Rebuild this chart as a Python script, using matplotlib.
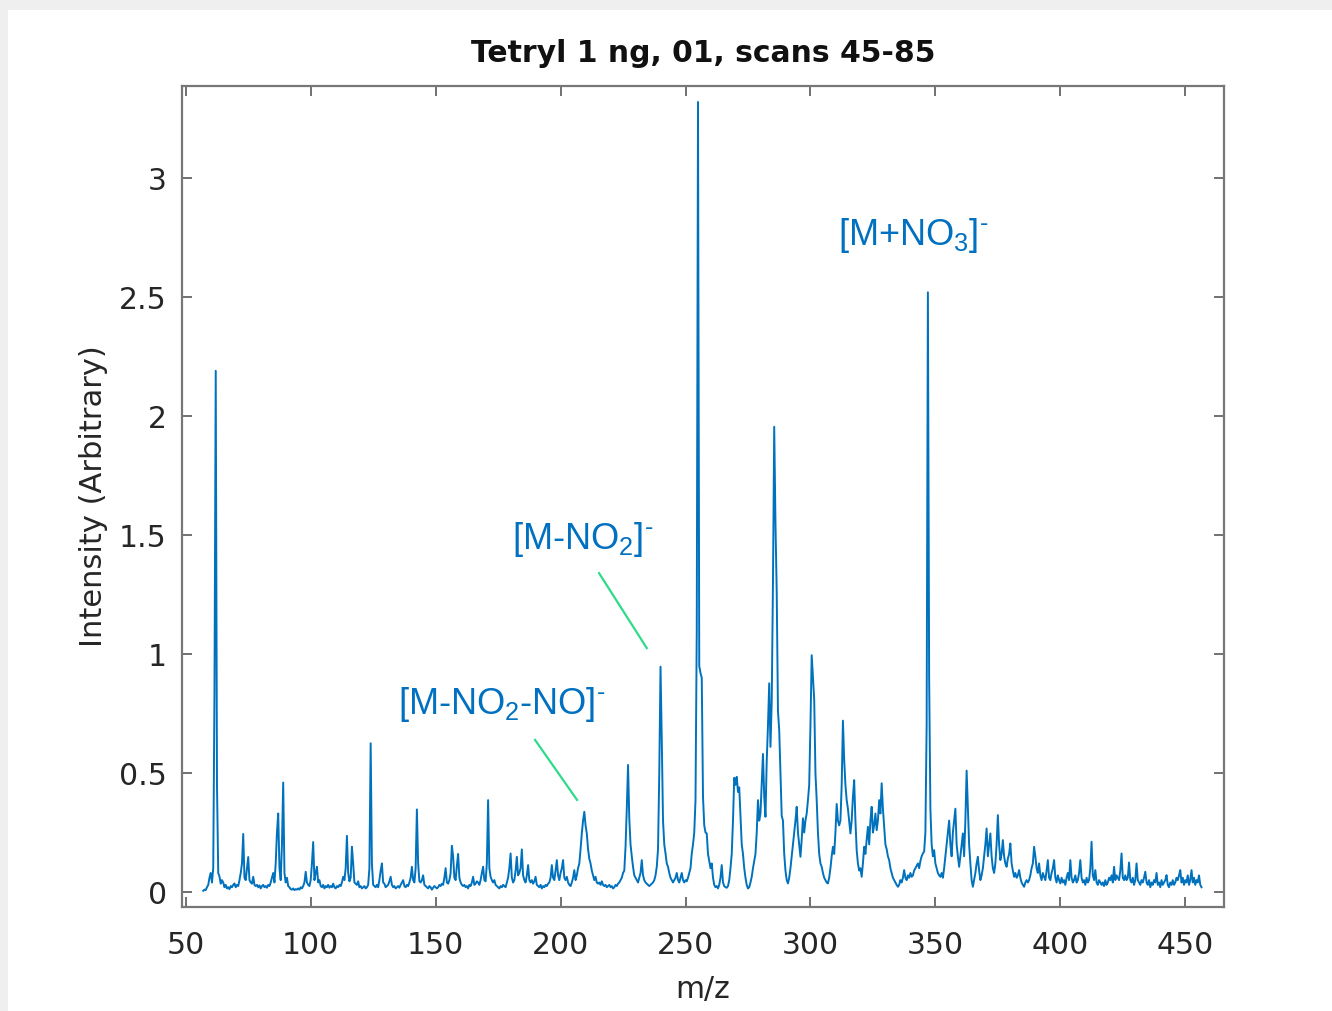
import numpy as np
import matplotlib
matplotlib.use("Agg")
import matplotlib.pyplot as plt
from matplotlib.patches import Rectangle

plt.rcParams['font.family'] = ['DejaVu Sans']
plt.rcParams['mathtext.fontset'] = 'custom'
plt.rcParams['mathtext.rm'] = 'Liberation Sans'
plt.rcParams['mathtext.it'] = 'Liberation Sans:italic'
plt.rcParams['mathtext.bf'] = 'Liberation Sans:bold'

# ---------------- data ----------------
title = "Tetryl 1 ng, 01, scans 45-85"
x_label = "m/z"
y_label = "Intensity (Arbitrary)"
x_ticks = [50, 100, 150, 200, 250, 300, 350, 400, 450]
y_ticks = [0, 0.5, 1, 1.5, 2, 2.5, 3]
y_tick_labels = ["0", "0.5", "1", "1.5", "2", "2.5", "3"]

# spectrum sampled every 0.5 m/z from 57 to 456.5 (one row = 10 m/z)
intensity = [
    # 57 - 66.5
    0.005, 0.01, 0.008, 0.02, 0.03, 0.06, 0.08, 0.04, 0.1, 0.85, 2.19, 0.45, 0.08, 0.065, 0.035, 0.05, 0.04, 0.02, 0.03, 0.015,
    # 67 - 76.5
    0.02, 0.012, 0.025, 0.02, 0.03, 0.036, 0.02, 0.03, 0.025, 0.05, 0.08, 0.12, 0.244, 0.06, 0.05, 0.1, 0.147, 0.05, 0.04, 0.035,
    # 77 - 86.5
    0.064, 0.03, 0.025, 0.03, 0.02, 0.028, 0.015, 0.025, 0.03, 0.02, 0.025, 0.018, 0.03, 0.025, 0.04, 0.06, 0.08, 0.04, 0.12, 0.25,
    # 87 - 96.5
    0.33, 0.1, 0.05, 0.2, 0.46, 0.08, 0.04, 0.06, 0.025, 0.02, 0.012, 0.01, 0.015, 0.008, 0.012, 0.01, 0.015, 0.01, 0.02, 0.015,
    # 97 - 106.5
    0.025, 0.04, 0.085, 0.04, 0.03, 0.025, 0.05, 0.12, 0.21, 0.05, 0.08, 0.106, 0.04, 0.05, 0.025, 0.02, 0.03, 0.015, 0.025, 0.02,
    # 107 - 116.5
    0.03, 0.018, 0.025, 0.02, 0.035, 0.02, 0.015, 0.025, 0.02, 0.03, 0.025, 0.04, 0.064, 0.05, 0.1, 0.236, 0.08, 0.045, 0.06, 0.19,
    # 117 - 126.5
    0.12, 0.04, 0.035, 0.03, 0.045, 0.02, 0.025, 0.015, 0.02, 0.025, 0.015, 0.02, 0.03, 0.1, 0.625, 0.12, 0.03, 0.025, 0.02, 0.03,
    # 127 - 136.5
    0.02, 0.05, 0.09, 0.12, 0.04, 0.035, 0.02, 0.025, 0.03, 0.045, 0.064, 0.03, 0.02, 0.025, 0.015, 0.02, 0.025, 0.018, 0.03, 0.04,
    # 137 - 146.5
    0.05, 0.025, 0.02, 0.03, 0.025, 0.04, 0.06, 0.106, 0.05, 0.04, 0.1, 0.347, 0.12, 0.045, 0.04, 0.05, 0.07, 0.03, 0.025, 0.02,
    # 147 - 156.5
    0.015, 0.025, 0.02, 0.01, 0.018, 0.025, 0.02, 0.015, 0.02, 0.03, 0.025, 0.035, 0.03, 0.06, 0.1, 0.04, 0.035, 0.05, 0.08, 0.194,
    # 157 - 166.5
    0.15, 0.06, 0.05, 0.11, 0.16, 0.06, 0.04, 0.03, 0.025, 0.03, 0.02, 0.025, 0.015, 0.03, 0.025, 0.04, 0.064, 0.03, 0.035, 0.045,
    # 167 - 176.5
    0.04, 0.03, 0.05, 0.08, 0.106, 0.05, 0.045, 0.12, 0.386, 0.1, 0.064, 0.05, 0.04, 0.05, 0.03, 0.025, 0.02, 0.015, 0.025, 0.02,
    # 177 - 186.5
    0.03, 0.025, 0.02, 0.04, 0.06, 0.1, 0.162, 0.06, 0.04, 0.05, 0.09, 0.148, 0.07, 0.08, 0.1, 0.179, 0.07, 0.05, 0.04, 0.07,
    # 187 - 196.5
    0.113, 0.05, 0.04, 0.05, 0.035, 0.045, 0.064, 0.03, 0.025, 0.02, 0.03, 0.015, 0.025, 0.02, 0.03, 0.025, 0.035, 0.04, 0.06, 0.113,
    # 197 - 206.5
    0.06, 0.05, 0.09, 0.134, 0.07, 0.05, 0.08, 0.1, 0.134, 0.06, 0.05, 0.064, 0.04, 0.03, 0.025, 0.04, 0.06, 0.092, 0.05, 0.07,
    # 207 - 216.5
    0.1, 0.12, 0.18, 0.246, 0.3, 0.337, 0.28, 0.246, 0.18, 0.14, 0.12, 0.09, 0.07, 0.05, 0.064, 0.04, 0.035, 0.04, 0.03, 0.045,
    # 217 - 226.5
    0.03, 0.025, 0.03, 0.02, 0.025, 0.03, 0.02, 0.025, 0.015, 0.02, 0.03, 0.025, 0.035, 0.04, 0.05, 0.06, 0.08, 0.09, 0.19, 0.35,
    # 227 - 236.5
    0.534, 0.31, 0.2, 0.15, 0.106, 0.07, 0.06, 0.05, 0.04, 0.06, 0.08, 0.134, 0.07, 0.05, 0.04, 0.035, 0.03, 0.025, 0.03, 0.035,
    # 237 - 246.5
    0.04, 0.05, 0.07, 0.106, 0.18, 0.5, 0.947, 0.64, 0.3, 0.2, 0.162, 0.12, 0.106, 0.08, 0.06, 0.05, 0.04, 0.05, 0.06, 0.08,
    # 247 - 256.5
    0.05, 0.04, 0.06, 0.08, 0.05, 0.04, 0.05, 0.045, 0.06, 0.08, 0.1, 0.162, 0.2, 0.25, 0.386, 1.1, 3.32, 0.95, 0.92, 0.9,
    # 257 - 266.5
    0.4, 0.28, 0.25, 0.246, 0.16, 0.13, 0.1, 0.12, 0.06, 0.03, 0.02, 0.025, 0.015, 0.03, 0.06, 0.113, 0.04, 0.025, 0.02, 0.018,
    # 267 - 276.5
    0.025, 0.05, 0.1, 0.16, 0.3, 0.48, 0.45, 0.484, 0.42, 0.44, 0.316, 0.2, 0.16, 0.1, 0.06, 0.03, 0.015, 0.02, 0.04, 0.064,
    # 277 - 286.5
    0.1, 0.13, 0.16, 0.25, 0.386, 0.3, 0.33, 0.45, 0.58, 0.4, 0.316, 0.55, 0.7, 0.877, 0.61, 0.8, 1.3, 1.955, 1.55, 1.26,
    # 287 - 296.5
    0.76, 0.68, 0.5, 0.32, 0.3, 0.16, 0.09, 0.05, 0.036, 0.06, 0.1, 0.15, 0.2, 0.246, 0.3, 0.358, 0.25, 0.2, 0.148, 0.22,
    # 297 - 306.5
    0.31, 0.25, 0.3, 0.33, 0.386, 0.45, 0.7, 0.995, 0.9, 0.81, 0.5, 0.386, 0.25, 0.16, 0.12, 0.106, 0.08, 0.06, 0.05, 0.04,
    # 307 - 316.5
    0.036, 0.06, 0.1, 0.15, 0.19, 0.16, 0.25, 0.37, 0.3, 0.28, 0.3, 0.45, 0.72, 0.555, 0.45, 0.386, 0.35, 0.3, 0.246, 0.3,
    # 317 - 326.5
    0.4, 0.47, 0.3, 0.176, 0.12, 0.09, 0.1, 0.064, 0.12, 0.19, 0.16, 0.22, 0.274, 0.2, 0.3, 0.358, 0.25, 0.28, 0.33, 0.26,
    # 327 - 336.5
    0.3, 0.386, 0.33, 0.457, 0.35, 0.274, 0.2, 0.18, 0.15, 0.134, 0.1, 0.08, 0.06, 0.05, 0.04, 0.03, 0.022, 0.03, 0.05, 0.04,
    # 337 - 346.5
    0.06, 0.092, 0.06, 0.05, 0.07, 0.06, 0.08, 0.064, 0.07, 0.09, 0.1, 0.11, 0.12, 0.1, 0.13, 0.15, 0.162, 0.17, 0.25, 0.7,
    # 347 - 356.5
    2.52, 0.9, 0.35, 0.2, 0.15, 0.176, 0.12, 0.1, 0.08, 0.07, 0.064, 0.08, 0.06, 0.1, 0.15, 0.2, 0.25, 0.3, 0.2, 0.15,
    # 357 - 366.5
    0.25, 0.3, 0.35, 0.2, 0.15, 0.106, 0.15, 0.2, 0.246, 0.15, 0.3, 0.51, 0.35, 0.2, 0.12, 0.05, 0.022, 0.05, 0.08, 0.12,
    # 367 - 376.5
    0.148, 0.09, 0.05, 0.07, 0.1, 0.15, 0.2, 0.267, 0.15, 0.2, 0.246, 0.15, 0.1, 0.08, 0.12, 0.2, 0.323, 0.2, 0.134, 0.16,
    # 377 - 386.5
    0.218, 0.15, 0.12, 0.106, 0.14, 0.16, 0.204, 0.12, 0.09, 0.064, 0.08, 0.06, 0.07, 0.092, 0.06, 0.04, 0.03, 0.022, 0.04, 0.05,
    # 387 - 396.5
    0.04, 0.05, 0.07, 0.1, 0.12, 0.19, 0.15, 0.1, 0.08, 0.12, 0.07, 0.05, 0.08, 0.064, 0.05, 0.09, 0.134, 0.06, 0.05, 0.08,
    # 397 - 406.5
    0.1, 0.134, 0.06, 0.04, 0.07, 0.05, 0.036, 0.06, 0.04, 0.05, 0.03, 0.06, 0.08, 0.05, 0.134, 0.06, 0.04, 0.05, 0.07, 0.04,
    # 407 - 416.5
    0.05, 0.08, 0.134, 0.06, 0.04, 0.05, 0.03, 0.06, 0.04, 0.05, 0.1, 0.211, 0.07, 0.05, 0.092, 0.04, 0.03, 0.05, 0.04, 0.03,
    # 417 - 426.5
    0.04, 0.025, 0.05, 0.03, 0.04, 0.06, 0.05, 0.07, 0.04, 0.106, 0.05, 0.07, 0.06, 0.05, 0.09, 0.162, 0.06, 0.05, 0.07, 0.05,
    # 427 - 436.5
    0.06, 0.124, 0.05, 0.04, 0.06, 0.03, 0.05, 0.12, 0.05, 0.04, 0.03, 0.05, 0.04, 0.06, 0.085, 0.04, 0.03, 0.05, 0.02, 0.04,
    # 437 - 446.5
    0.03, 0.05, 0.04, 0.08, 0.03, 0.04, 0.02, 0.05, 0.03, 0.04, 0.05, 0.071, 0.03, 0.02, 0.04, 0.03, 0.05, 0.03, 0.04, 0.06,
    # 447 - 456.5
    0.05, 0.07, 0.092, 0.04, 0.06, 0.03, 0.05, 0.04, 0.07, 0.03, 0.05, 0.092, 0.04, 0.06, 0.03, 0.05, 0.04, 0.07, 0.03, 0.02,
]
mz = np.arange(57.0, 57.0 + 0.5 * len(intensity), 0.5)[:len(intensity)]

# annotations: (text, text anchor x, y) and leader lines (x0, y0, x1, y1)
ann_texts = [r"[M+NO$_3$]$^{\text{-}}$", r"[M-NO$_2$]$^{\text{-}}$", r"[M-NO$_2$-NO]$^{\text{-}}$"]
ann_x = [311.0, 180.6, 134.8]
ann_y = [2.76, 1.48, 0.786]
lead_x0 = [215.4, 189.8]
lead_y0 = [1.34, 0.639]
lead_x1 = [234.5, 206.6]
lead_y1 = [1.025, 0.387]

# ---------------- figure ----------------
W, H = 1332, 1011
fig = plt.figure(figsize=(W / 100, H / 100), dpi=100, facecolor='#efefef')
bg = Rectangle((8 / W, 0), 1 - 8 / W, 1 - 10 / H, transform=fig.transFigure,
               facecolor='white', edgecolor='none', zorder=-10)
fig.add_artist(bg)

ax = fig.add_axes([182 / W, 1 - 907 / H, (1224 - 182) / W, (907 - 86) / H])
ax.set_zorder(1)
ax.set_facecolor('white')
ax.plot(mz, intensity, color='#0072BD', lw=1.4)

ax.set_xlim(48.5, 465.5)
ax.set_ylim(-0.063, 3.387)
ax.set_xticks(x_ticks)
ax.set_yticks(y_ticks)
ax.set_yticklabels(y_tick_labels)

frame_col = '#777777'
for s in ax.spines.values():
    s.set_color(frame_col)
    s.set_linewidth(1.6)
ax.tick_params(direction='in', top=True, right=True, length=7.5, width=1.1,
               color='#4a4a4a', labelcolor='#262626', labelsize=21.5)
ax.tick_params(axis='x', pad=17)
ax.tick_params(axis='y', pad=11)

ax.set_title(title, fontsize=21.5, fontweight='bold', color='#111111', pad=17)
ax.set_xlabel(x_label, fontsize=21.5, color='#262626')
ax.set_ylabel(y_label, fontsize=22, color='#262626')
ax.xaxis.set_label_coords(0.5, -0.1)
ax.xaxis.label.set_va('center')
ax.yaxis.set_label_coords(-0.0845, 0.5)
ax.yaxis.label.set_va('center')

ann_col = '#0070C0'
for t, xx, yy in zip(ann_texts, ann_x, ann_y):
    ax.text(xx, yy, t, color=ann_col, fontsize=26, ha='left', va='center',
            family=['Liberation Sans', 'DejaVu Sans'])
for a, b, c, d in zip(lead_x0, lead_y0, lead_x1, lead_y1):
    ax.plot([a, c], [b, d], color='#2EDB8A', lw=1.6)

fig.savefig('out.png', dpi=100, facecolor=fig.get_facecolor())
